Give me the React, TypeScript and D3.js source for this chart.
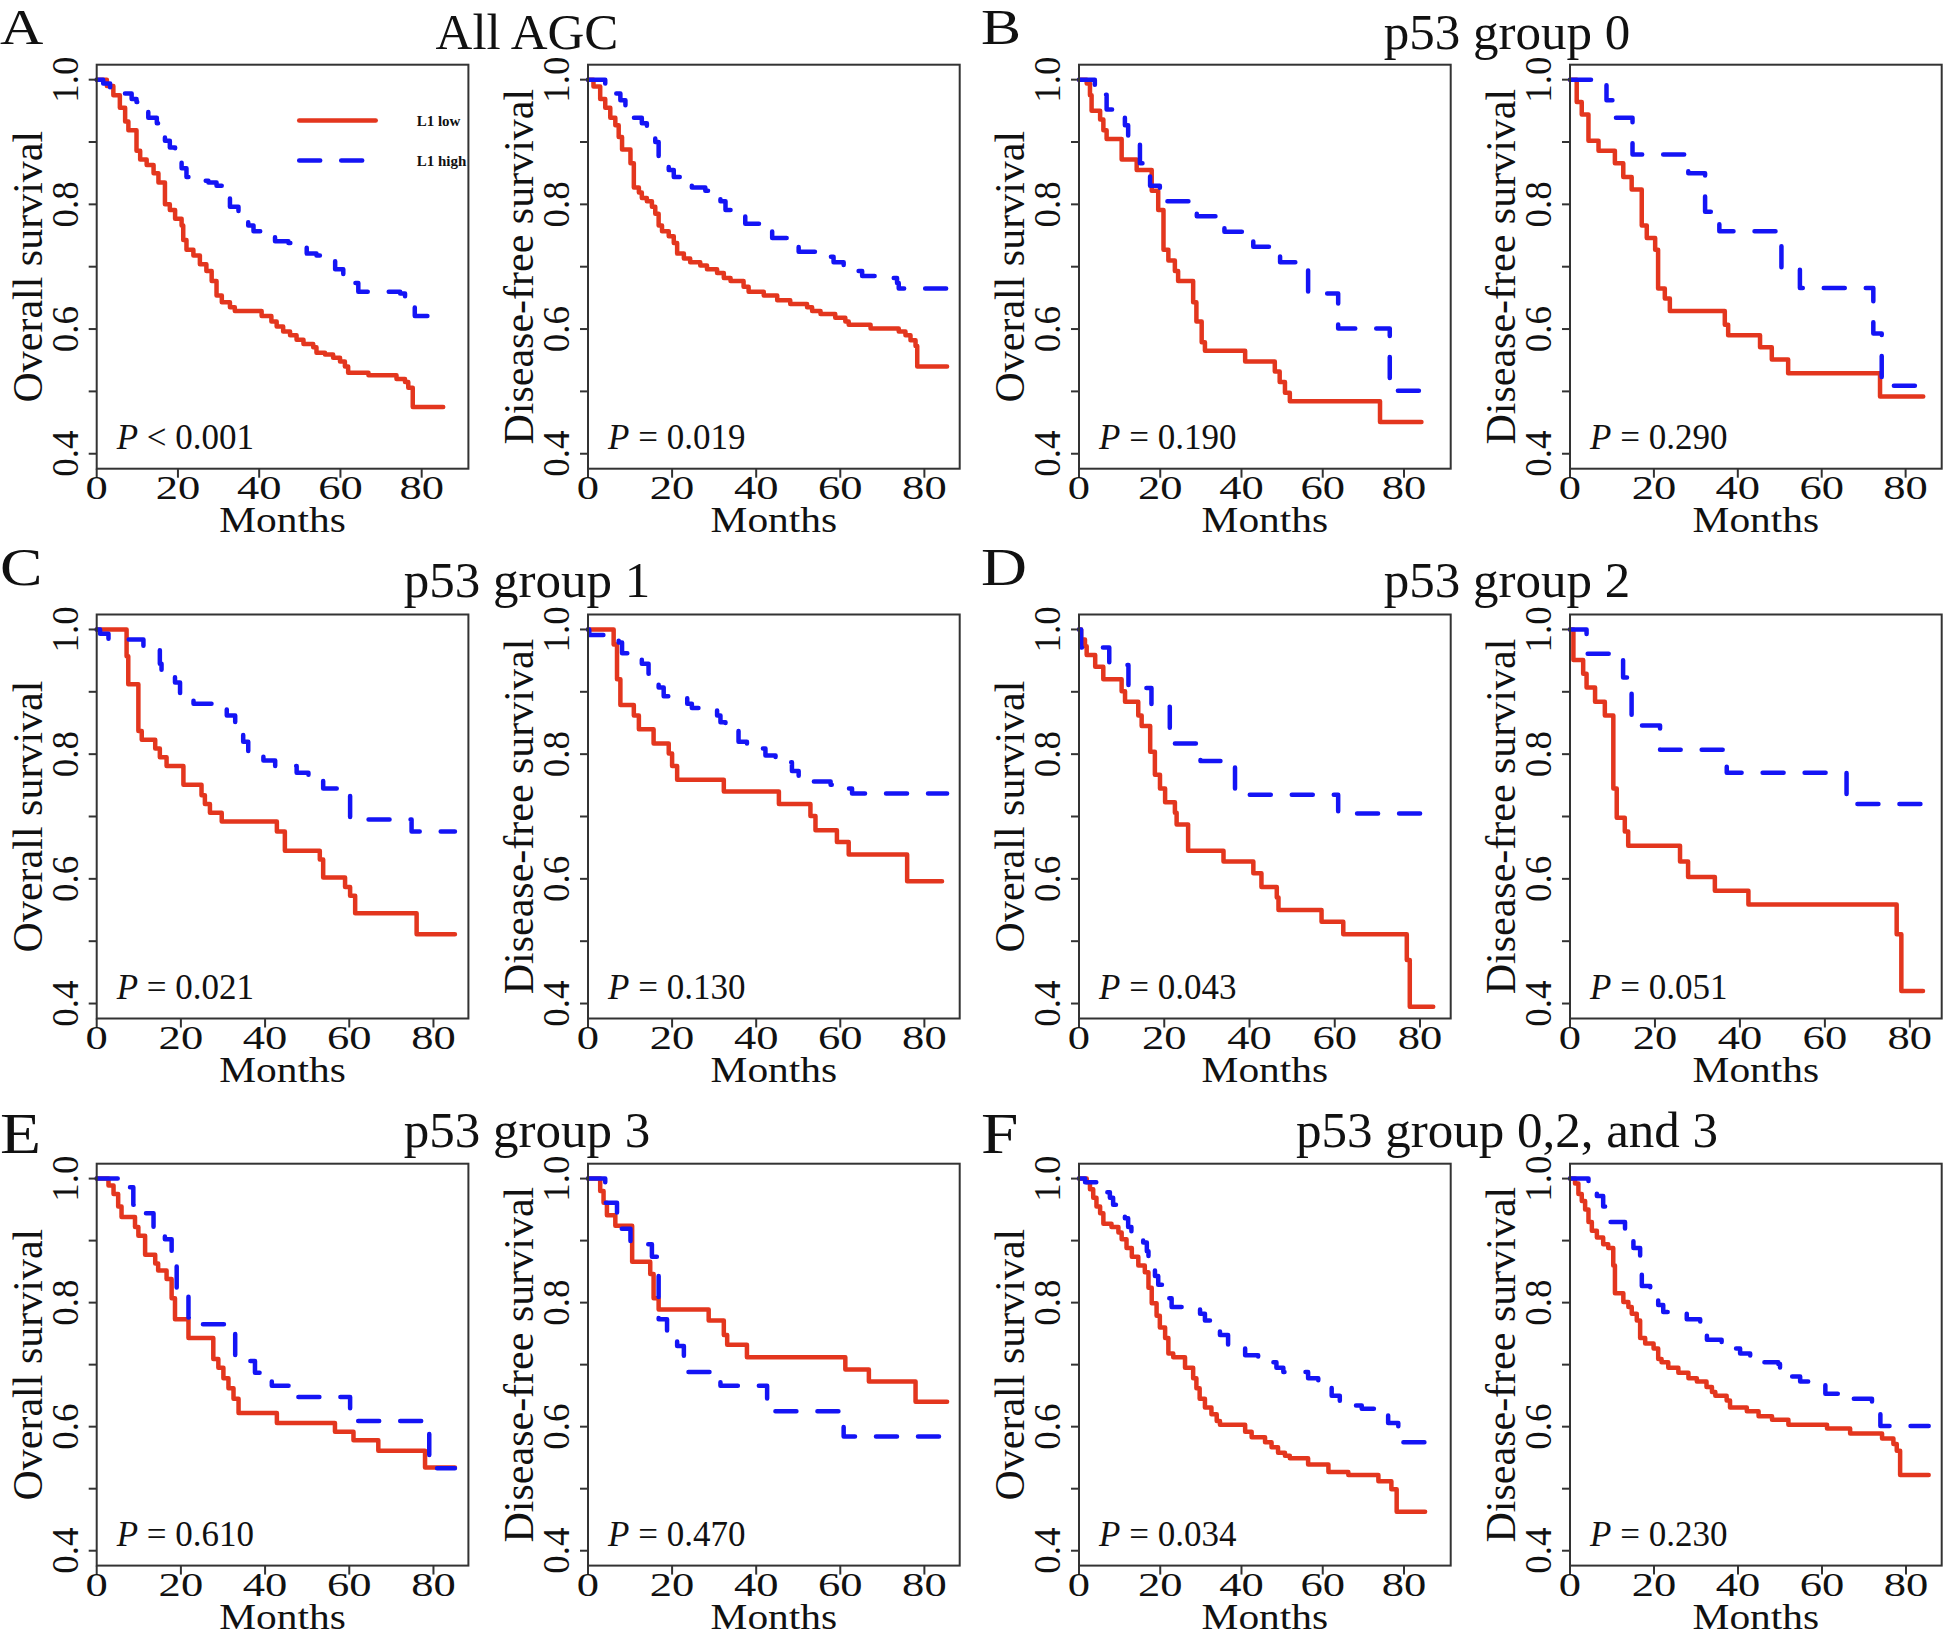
import React, { useEffect, useRef } from "react"
import * as d3 from "d3"

// ---- data: Kaplan-Meier steps, [month, survival] (drop time, new value; last point = end of follow-up)
const agcOsLow = [[0,1],[2.5,0.99],[4.1,0.975],[5.7,0.955],[7,0.933],[7.8,0.919],[9.8,0.886],[10.7,0.872],[12.3,0.863],[14,0.85],[15.2,0.835],[16.8,0.8],[18,0.791],[19.3,0.777],[20.9,0.766],[21.3,0.743],[22.1,0.727],[23.8,0.718],[25.4,0.704],[27,0.693],[28.3,0.677],[29.5,0.654],[30.8,0.643],[32.8,0.635],[34,0.629],[40.6,0.621],[43,0.612],[44.3,0.604],[45.9,0.596],[47.6,0.59],[49.2,0.583],[50.9,0.576],[53.3,0.571],[54.1,0.562],[56.2,0.559],[58.2,0.554],[59.9,0.548],[61.1,0.54],[61.9,0.53],[66.9,0.526],[73.8,0.52],[75.9,0.515],[76.7,0.506],[77.8,0.475],[85.3,0.475]]
const agcOsHigh = [[0,1],[1.6,0.994],[3.3,0.986],[6.6,0.978],[8.6,0.969],[9.8,0.964],[12.7,0.939],[14.8,0.93],[16.8,0.902],[18,0.891],[19.3,0.883],[20.9,0.858],[22.1,0.844],[23.4,0.838],[27.5,0.835],[29.5,0.83],[30.8,0.824],[32.8,0.796],[34.9,0.782],[37.3,0.766],[38.6,0.757],[40.6,0.755],[43.9,0.741],[47.2,0.738],[48.8,0.735],[51.7,0.721],[54.1,0.718],[55.8,0.713],[58.7,0.696],[60.7,0.674],[64.4,0.66],[74.7,0.657],[75.9,0.649],[77.1,0.637],[78.3,0.621],[84.9,0.621]]
const agcDfsLow = [[0,1],[1.3,0.989],[2.9,0.969],[4.1,0.955],[5.3,0.939],[6.5,0.927],[7.3,0.908],[8.1,0.888],[10.1,0.866],[10.9,0.827],[12.1,0.819],[12.8,0.81],[14,0.805],[15.2,0.796],[16,0.785],[16.8,0.766],[17.6,0.757],[19.2,0.749],[20.4,0.738],[21.2,0.721],[22.8,0.713],[24.3,0.707],[26.7,0.702],[28.3,0.696],[30.7,0.69],[32.3,0.682],[33.9,0.677],[37,0.668],[38.2,0.66],[41.8,0.654],[45,0.646],[48.1,0.64],[52.1,0.635],[53.3,0.629],[55.3,0.624],[58.8,0.618],[61.2,0.612],[62,0.607],[67.2,0.601],[73.9,0.596],[75.5,0.59],[76.7,0.582],[77.9,0.573],[78.3,0.54],[85.4,0.54]]
const agcDfsHigh = [[0,1],[4.1,0.994],[6.5,0.978],[7.7,0.967],[8.9,0.958],[10.9,0.939],[12.8,0.93],[14,0.922],[16,0.9],[16.8,0.875],[19.2,0.855],[20.4,0.844],[21.9,0.838],[24.7,0.827],[27.9,0.822],[31.5,0.805],[32.7,0.791],[33.9,0.785],[37.4,0.769],[41.8,0.763],[43.8,0.746],[47.7,0.741],[50.1,0.724],[54.9,0.716],[58.4,0.707],[60.8,0.693],[65.2,0.685],[71.1,0.682],[73.5,0.674],[73.9,0.665],[85.4,0.665]]

const g0OsLow = [[0,1],[1.9,0.994],[2.7,0.975],[3.1,0.95],[5.2,0.936],[6,0.919],[6.8,0.905],[10.5,0.872],[14.2,0.855],[17.9,0.822],[19.5,0.791],[20.8,0.727],[22,0.71],[23.6,0.693],[24.4,0.677],[28.1,0.643],[28.9,0.612],[30.2,0.579],[31,0.565],[40.9,0.548],[48.2,0.532],[49.4,0.515],[50.7,0.498],[51.9,0.484],[74.1,0.451],[84.3,0.451]]
const g0OsHigh = [[0,1],[3.9,0.976],[6.8,0.952],[11.3,0.927],[12.1,0.905],[15,0.866],[16.2,0.855],[17.5,0.83],[19.9,0.805],[29,0.781],[35.8,0.756],[42.9,0.732],[49.5,0.707],[56.4,0.657],[63.8,0.601],[76.5,0.501],[87.6,0.501]]
const g0DfsLow = [[0,1],[1.6,0.964],[2.8,0.944],[4.4,0.902],[6.8,0.886],[10.7,0.866],[12.7,0.844],[14.7,0.824],[17.1,0.766],[18.3,0.746],[20.3,0.727],[21,0.665],[22.6,0.649],[23.8,0.629],[36.9,0.607],[37.7,0.59],[45.3,0.571],[48.1,0.551],[52,0.529],[73.9,0.492],[84.2,0.492]]
const g0DfsHigh = [[0,1],[8.7,0.967],[10.5,0.939],[14.9,0.88],[28.2,0.85],[32.2,0.788],[35.6,0.757],[50.4,0.696],[54.8,0.666],[72.3,0.593],[74.3,0.509],[85.8,0.509]]

const g1OsLow = [[0,1],[7.1,0.957],[7.5,0.912],[9.9,0.837],[10.7,0.823],[13.9,0.809],[15,0.795],[16.6,0.781],[20.6,0.751],[24.9,0.734],[25.7,0.72],[26.9,0.706],[29.7,0.692],[42.8,0.676],[44.7,0.645],[53,0.631],[53.8,0.602],[59,0.587],[60.2,0.573],[61.4,0.545],[76,0.511],[85.1,0.511]]
const g1OsHigh = [[0,1],[0.8,0.993],[2.8,0.984],[11.1,0.969],[15,0.945],[15.4,0.932],[18.6,0.915],[19.8,0.898],[23,0.881],[30.9,0.862],[32.9,0.845],[34.8,0.82],[36,0.804],[39.6,0.79],[42.4,0.781],[47.5,0.77],[50.3,0.759],[53.8,0.745],[57.8,0.735],[60.2,0.695],[74.8,0.676],[85.1,0.676]]
const g1DfsLow = [[0,1],[6.1,0.976],[6.9,0.92],[7.7,0.879],[10.9,0.862],[12.1,0.84],[15.6,0.817],[19.2,0.801],[20,0.781],[21.2,0.759],[32.3,0.74],[45.4,0.72],[52.9,0.701],[54.1,0.678],[59.2,0.659],[62,0.639],[75.9,0.596],[84.2,0.596]]
const g1DfsHigh = [[0,1],[0.3,0.991],[7.3,0.979],[8.1,0.962],[12.8,0.945],[14.4,0.929],[16.8,0.907],[18,0.893],[23.6,0.881],[24.7,0.874],[30.7,0.862],[31.5,0.851],[32.7,0.843],[35.8,0.82],[37.8,0.809],[42.2,0.798],[44.6,0.787],[48.5,0.773],[50.1,0.756],[57.7,0.751],[58.8,0.745],[62.8,0.737],[85.4,0.737]]

const g2OsLow = [[0,1],[0.5,0.984],[1.4,0.973],[1.8,0.959],[3.8,0.94],[5.7,0.92],[10,0.901],[10.8,0.884],[13.9,0.862],[14.7,0.845],[16.7,0.804],[17.8,0.767],[19,0.745],[20.2,0.723],[22.5,0.706],[22.9,0.687],[25.6,0.645],[33.9,0.628],[40.9,0.609],[42.8,0.587],[46.4,0.57],[46.8,0.55],[56.9,0.531],[62,0.511],[76.9,0.47],[77.6,0.395],[83.1,0.395]]
const g2OsHigh = [[0,1],[0.5,0.971],[7.1,0.943],[11.6,0.906],[17,0.876],[21.3,0.817],[28.5,0.789],[36.6,0.735],[60.8,0.705],[81.9,0.705]]
const g2DfsLow = [[0,1],[0.8,0.951],[3.1,0.929],[3.9,0.907],[5.9,0.884],[8.2,0.862],[10.2,0.745],[11,0.698],[12.9,0.676],[13.7,0.653],[25.9,0.628],[27.8,0.603],[34.1,0.581],[42,0.559],[76.9,0.511],[78,0.42],[83.1,0.42]]
const g2DfsHigh = [[0,1],[3.9,0.961],[12.5,0.923],[14.5,0.859],[16,0.846],[21.2,0.807],[36.9,0.77],[65.1,0.72],[84.3,0.72]]

const g3OsLow = [[0,1],[2.8,0.989],[4,0.975],[5.1,0.955],[5.9,0.938],[9.1,0.922],[9.9,0.908],[11.5,0.877],[13.9,0.863],[14.6,0.852],[16.6,0.838],[17.8,0.807],[18.6,0.773],[21.8,0.743],[27.7,0.709],[28.9,0.695],[30.1,0.678],[31.3,0.662],[32.5,0.645],[33.7,0.622],[42.8,0.606],[56.6,0.592],[61,0.578],[66.9,0.561],[78,0.534],[85.1,0.534]]
const g3OsHigh = [[0,1],[7.1,0.986],[8.7,0.958],[11.5,0.944],[13.5,0.922],[16.2,0.902],[17.8,0.88],[19,0.824],[21.8,0.776],[25,0.765],[32.9,0.706],[37.6,0.687],[41.6,0.666],[47,0.648],[60.2,0.609],[79,0.533],[85.1,0.533]]
const g3DfsLow = [[0,1],[2.9,0.98],[3.7,0.961],[4.5,0.941],[6.5,0.924],[10.5,0.866],[14.8,0.846],[15.6,0.807],[16.8,0.789],[28.7,0.771],[32.3,0.748],[33.1,0.732],[37.8,0.712],[61.2,0.692],[66.8,0.673],[77.9,0.64],[85.4,0.64]]
const g3DfsHigh = [[0,1],[4.1,0.961],[6.9,0.944],[7.3,0.919],[10.1,0.894],[15.2,0.874],[16.8,0.773],[18.8,0.751],[21.2,0.73],[22.8,0.709],[23.6,0.688],[31.5,0.666],[42.6,0.625],[60.8,0.584],[85.4,0.584]]

const g023OsLow = [[0,1],[1.9,0.994],[2.7,0.983],[3.5,0.969],[4.3,0.955],[5.2,0.944],[6,0.927],[8,0.922],[9.7,0.913],[10.5,0.902],[11.7,0.888],[13,0.874],[14.6,0.86],[16.2,0.849],[17.1,0.824],[17.9,0.799],[19.1,0.779],[19.9,0.76],[21.2,0.743],[22,0.718],[23.2,0.712],[26.1,0.695],[28.1,0.678],[28.9,0.662],[29.7,0.645],[31,0.631],[32.6,0.62],[33.9,0.609],[34.7,0.603],[40.9,0.592],[42.5,0.583],[45.8,0.575],[47.4,0.567],[49,0.558],[50.7,0.553],[51.9,0.549],[56.4,0.539],[61.4,0.527],[66.3,0.522],[73.7,0.512],[76.9,0.499],[78.2,0.463],[85.2,0.463]]
const g023OsHigh = [[0,1],[1.5,0.994],[6.8,0.978],[7.6,0.969],[8.4,0.958],[11.3,0.936],[12.1,0.922],[12.9,0.913],[15.8,0.897],[16.7,0.883],[17.1,0.869],[18.7,0.843],[19.5,0.829],[20.8,0.821],[21.6,0.807],[22.8,0.793],[29.8,0.782],[31,0.771],[34.7,0.748],[36.7,0.729],[40.9,0.715],[44.1,0.704],[48.6,0.695],[50.3,0.688],[56.4,0.678],[58.9,0.673],[62.2,0.65],[64.2,0.634],[69.6,0.629],[76.1,0.606],[78.6,0.575],[88.4,0.575]]
const g023DfsLow = [[0,1],[1.2,0.992],[2,0.975],[2.8,0.964],[3.6,0.95],[4.4,0.93],[5.2,0.916],[6.4,0.905],[7.9,0.894],[9.1,0.888],[10.3,0.86],[10.7,0.815],[12.7,0.801],[13.9,0.793],[14.7,0.782],[15.9,0.771],[16.7,0.743],[17.9,0.734],[19.9,0.726],[21,0.709],[21.8,0.704],[23.4,0.695],[25.8,0.687],[28.2,0.678],[30.2,0.673],[32.5,0.664],[33.8,0.656],[34.6,0.65],[37.3,0.642],[38.1,0.631],[42.1,0.625],[44.9,0.617],[48.1,0.611],[52,0.603],[61.2,0.597],[66.7,0.589],[74.3,0.581],[77,0.572],[77.8,0.561],[78.6,0.522],[85.4,0.522]]
const g023DfsHigh = [[0,1],[4.4,0.994],[6.4,0.972],[7.9,0.955],[9.5,0.93],[13.1,0.919],[15.1,0.888],[16.7,0.869],[17.1,0.827],[19.1,0.818],[21,0.796],[22.2,0.785],[27.8,0.773],[31,0.76],[32.6,0.74],[36.1,0.726],[40.5,0.718],[42.9,0.704],[49.6,0.701],[50,0.681],[54.8,0.673],[60.8,0.653],[65.1,0.645],[71.9,0.625],[73.9,0.601],[85.4,0.601]]

const groupLetters = ["A", "B", "C", "D", "E", "F"]
const groupTitles = ["All AGC", "p53 group 0", "p53 group 1", "p53 group 2", "p53 group 3", "p53 group 0,2, and 3"]
const pValues = ["< 0.001", "= 0.019", "= 0.190", "= 0.290", "= 0.021", "= 0.130", "= 0.043", "= 0.051", "= 0.610", "= 0.470", "= 0.034", "= 0.230"]
const xMaxes = [91.5, 88.4, 91.5, 88.6, 88.3, 88.4, 87.2, 87.5, 88.3, 88.4, 91.5, 88.5]
const yLabels = ["Overall survival", "Disease-free survival"]
const xTicks = [0, 20, 40, 60, 80]
const yTicks = [0.4, 0.5, 0.6, 0.7, 0.8, 0.9, 1.0]
const yTickLabels = [0.4, 0.6, 0.8, 1.0]
const legendLabels = ["L1 low", "L1 high"]

const lowSeries = [agcOsLow, agcDfsLow, g0OsLow, g0DfsLow, g1OsLow, g1DfsLow, g2OsLow, g2DfsLow, g3OsLow, g3DfsLow, g023OsLow, g023DfsLow]
const highSeries = [agcOsHigh, agcDfsHigh, g0OsHigh, g0DfsHigh, g1OsHigh, g1DfsHigh, g2OsHigh, g2DfsHigh, g3OsHigh, g3DfsHigh, g023OsHigh, g023DfsHigh]

// ---- layout
const W = 1946
const H = 1637
const colLeft = [96.7, 588, 1079, 1570]
const boxW = 371.7
const rowBox = [[64.7, 468.7], [614.5, 1018.5], [1163.7, 1565.6]]
const letterBase = [43.5, 585, 1152.6]
const letterSize = [50, 53, 56]
const titleBase = [48.7, 597, 1147.4]
const titleX = [527, 1507]
const RED = "#e3361e"
const BLUE = "#1414f5"
const FONT = "'Liberation Serif', 'Times New Roman', serif"

function drawPanel(svg, i) {
  const row = Math.floor(i / 4)
  const col = i % 4
  const left = colLeft[col]
  const [top, bottom] = rowBox[row]
  const x = d3.scaleLinear().domain([0, xMaxes[i]]).range([left, left + boxW])
  const y = d3.scaleLinear().domain([0.376, 1.024]).range([bottom, top])
  const g = svg.append("g")

  const line = d3.line<number[]>()
    .x(d => x(d[0]))
    .y(d => y(d[1]))
    .curve(d3.curveStepAfter)

  g.append("path")
    .datum(lowSeries[i])
    .attr("d", line)
    .attr("fill", "none")
    .attr("stroke", RED)
    .attr("stroke-width", 4.5)
    .attr("stroke-linejoin", "round")
    .attr("stroke-linecap", "round")
  g.append("path")
    .datum(highSeries[i])
    .attr("d", line)
    .attr("fill", "none")
    .attr("stroke", BLUE)
    .attr("stroke-width", 4.5)
    .attr("stroke-dasharray", "21 21")
    .attr("stroke-linejoin", "round")
    .attr("stroke-linecap", "round")

  g.append("rect")
    .attr("x", left)
    .attr("y", top)
    .attr("width", boxW)
    .attr("height", bottom - top)
    .attr("fill", "none")
    .attr("stroke", "#333")
    .attr("stroke-width", 2)

  // y axis
  g.selectAll(".yt")
    .data(yTicks)
    .enter()
    .append("line")
    .attr("x1", left - 8)
    .attr("x2", left)
    .attr("y1", d => y(d))
    .attr("y2", d => y(d))
    .attr("stroke", "#333")
    .attr("stroke-width", 2)
  g.selectAll(".yl")
    .data(yTickLabels)
    .enter()
    .append("text")
    .attr("transform", d => `translate(${left - 19},${y(d)}) rotate(-90)`)
    .attr("text-anchor", "middle")
    .attr("font-size", 37)
    .text(d => d.toFixed(1))
  g.append("text")
    .attr("transform", `translate(${left - 55},${(top + bottom) / 2}) rotate(-90)`)
    .attr("text-anchor", "middle")
    .attr("font-size", 42)
    .text(yLabels[i % 2])

  // x axis
  g.selectAll(".xt")
    .data(xTicks)
    .enter()
    .append("line")
    .attr("x1", d => x(d))
    .attr("x2", d => x(d))
    .attr("y1", bottom)
    .attr("y2", bottom + 9)
    .attr("stroke", "#333")
    .attr("stroke-width", 2)
  g.selectAll(".xl")
    .data(xTicks)
    .enter()
    .append("text")
    .attr("transform", d => `translate(${x(d)},${bottom + 30}) scale(1.35,1)`)
    .attr("text-anchor", "middle")
    .attr("font-size", 33)
    .text(d => d)
  g.append("text")
    .attr("transform", `translate(${left + boxW / 2},${bottom + 63}) scale(1.15,1)`)
    .attr("text-anchor", "middle")
    .attr("font-size", 36)
    .text("Months")

  // p value
  const pt = g.append("text")
    .attr("x", left + 20)
    .attr("y", bottom - 20)
    .attr("font-size", 35)
  pt.append("tspan").attr("font-style", "italic").text("P")
  pt.append("tspan").text("\u00a0" + pValues[i].replace(" ", "\u00a0"))

  // legend only on the first panel
  if (i === 0) {
    const lx0 = left + 202.5
    const lx1 = left + 279
    const ly = [120.6, 160.6]
    g.append("line")
      .attr("x1", lx0).attr("x2", lx1).attr("y1", ly[0]).attr("y2", ly[0])
      .attr("stroke", RED).attr("stroke-width", 4.5).attr("stroke-linecap", "round")
    g.append("line")
      .attr("x1", lx0).attr("x2", lx1).attr("y1", ly[1]).attr("y2", ly[1])
      .attr("stroke", BLUE).attr("stroke-width", 4.5).attr("stroke-linecap", "round")
      .attr("stroke-dasharray", "21 21")
    legendLabels.forEach((t, k) => {
      g.append("text")
        .attr("x", left + 320)
        .attr("y", ly[k] + 5)
        .attr("font-size", 15)
        .attr("font-weight", "bold")
        .text(t)
    })
  }
}

export default function App() {
  const ref = useRef<SVGSVGElement>(null)

  useEffect(() => {
    const svg = d3.select(ref.current)
    svg.selectAll("*").remove()
    svg.attr("font-family", FONT).attr("fill", "#111")

    for (let i = 0; i < 12; i++) drawPanel(svg, i)

    groupLetters.forEach((l, k) => {
      const row = Math.floor(k / 2)
      svg.append("text")
        .attr("transform", `translate(${k % 2 === 0 ? 0 : 981},${letterBase[row]}) scale(1.2,1)`)
        .attr("font-size", letterSize[row])
        .text(l)
      svg.append("text")
        .attr("x", titleX[k % 2])
        .attr("y", titleBase[row])
        .attr("text-anchor", "middle")
        .attr("font-size", 51)
        .text(groupTitles[k])
    })
  }, [])

  return (
    <svg
      ref={ref}
      width={W}
      height={H}
      style={{ position: "absolute", left: 0, top: 0, background: "#fff" }}
    />
  )
}
